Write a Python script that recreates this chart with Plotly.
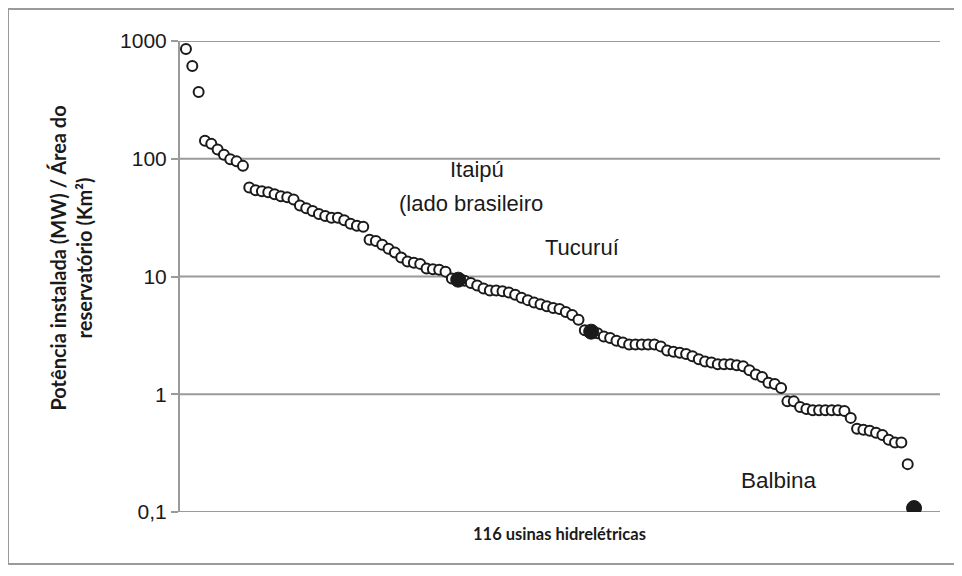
import plotly.graph_objects as go

# Potência instalada / área do reservatório, 116 usinas (ordenadas)
ratios = [
    855, 613, 369, 142, 134, 120, 108, 99, 95, 87,
    57, 54, 53, 52, 50, 48, 47, 45, 40, 38,
    36, 34, 32.6, 31.5, 31.5, 30, 28, 27, 26.5, 20.5,
    20, 18.6, 17.2, 16, 14.5, 13.4, 13.1, 12.8, 11.7, 11.5,
    11.4, 11, 9.6, 9.4, 9.2, 8.8, 8.4, 7.9, 7.6, 7.6,
    7.5, 7.3, 7.0, 6.6, 6.3, 6.0, 5.8, 5.6, 5.4, 5.3,
    5.0, 4.7, 4.3, 3.5, 3.4, 3.3, 3.1, 3.0, 2.85, 2.75,
    2.65, 2.65, 2.65, 2.65, 2.65, 2.55, 2.35, 2.3, 2.25, 2.2,
    2.1, 1.98, 1.9, 1.86, 1.8, 1.8, 1.8, 1.76, 1.73, 1.6,
    1.47, 1.4, 1.25, 1.22, 1.13, 0.87, 0.87, 0.78, 0.75, 0.73,
    0.73, 0.73, 0.73, 0.73, 0.72, 0.63, 0.51, 0.5, 0.49, 0.47,
    0.45, 0.41, 0.39, 0.39, 0.255, 0.108,
]
ranks = list(range(1, len(ratios) + 1))

highlight_names = ["Itaipú", "Tucuruí", "Balbina"]
highlight_ranks = [44, 65, 116]
highlight_vals = [ratios[r - 1] for r in highlight_ranks]

tick_vals = [0.1, 1, 10, 100, 1000]
tick_text = ["0,1", "1", "10", "100", "1000"]

GRID = "#9a9a9a"

fig = go.Figure()
fig.add_trace(go.Scatter(
    x=ranks, y=ratios, mode="markers",
    marker=dict(symbol="circle", size=10, color="white",
                line=dict(color="#1a1a1a", width=2)),
    hoverinfo="x+y", showlegend=False,
))
fig.add_trace(go.Scatter(
    x=highlight_ranks, y=highlight_vals, mode="markers",
    text=highlight_names,
    marker=dict(symbol="circle", size=15, color="#1a1a1a",
                line=dict(color="#1a1a1a", width=1)),
    showlegend=False,
))

# gridlines and axis line as shapes (so the edge lines are drawn too)
shapes = [dict(type="line", xref="paper", yref="y", x0=0, x1=1, y0=v, y1=v,
               line=dict(color=GRID, width=2), layer="below") for v in tick_vals]
shapes.append(dict(type="line", xref="paper", yref="paper", x0=0, x1=0, y0=0, y1=1,
                   line=dict(color=GRID, width=2), layer="below"))
shapes.append(dict(type="rect", xref="paper", yref="paper",
                   x0=-0.2247, x1=1.0197, y0=-0.1104, y1=1.068,
                   line=dict(color=GRID, width=2), layer="below"))

# page body has an 8px margin, so the figure is offset by 8px
fig.update_layout(
    width=954, height=568, autosize=False,
    margin=dict(l=171, r=22, t=33, b=64),
    paper_bgcolor="rgba(0,0,0,0)", plot_bgcolor="rgba(0,0,0,0)",
    font=dict(family="Liberation Sans, Arial, sans-serif", color="#1a1a1a"),
    xaxis=dict(range=[-0.1, 120.1], showgrid=False, zeroline=False,
               showticklabels=False, ticks="", showline=False),
    yaxis=dict(type="log", range=[-1, 3], tickvals=tick_vals, ticktext=tick_text,
               showgrid=False, showline=False,
               ticks="outside", ticklen=7, tickcolor=GRID, tickwidth=1.5,
               tickfont=dict(size=21, color="#1a1a1a"), zeroline=False),
    shapes=shapes,
    annotations=[
        dict(text="<b>Potência instalada (MW) / Área do<br>reservatório (Km²)</b>",
             xref="paper", yref="paper", x=-0.142, y=0.54, textangle=-90,
             xanchor="center", yanchor="middle",
             showarrow=False, font=dict(family="Lato, sans-serif", size=20)),
        dict(text="<b>116 usinas hidrelétricas</b>", xref="paper", yref="paper",
             x=0.5, y=-0.047, xanchor="center", yanchor="middle", showarrow=False,
             font=dict(family="Lato, sans-serif", size=16.5)),
        dict(text="Itaipú", xref="paper", yref="paper", x=0.3916, y=0.728,
             xanchor="center", yanchor="middle",
             showarrow=False, font=dict(size=22)),
        dict(text="(lado brasileiro", xref="paper", yref="paper", x=0.3837, y=0.654,
             xanchor="center", yanchor="middle",
             showarrow=False, font=dict(size=22)),
        dict(text="Tucuruí", xref="paper", yref="paper", x=0.5290, y=0.562,
             xanchor="center", yanchor="middle",
             showarrow=False, font=dict(size=22)),
        dict(text="Balbina", xref="paper", yref="paper", x=0.7884, y=0.0679,
             xanchor="center", yanchor="middle",
             showarrow=False, font=dict(size=22.5)),
    ],
)

fig.write_html("out.html")
